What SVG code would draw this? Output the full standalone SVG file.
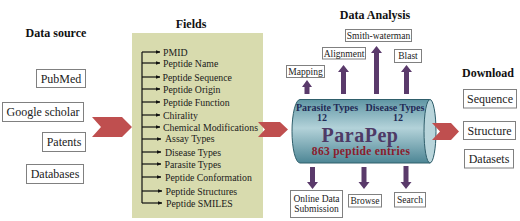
<svg xmlns="http://www.w3.org/2000/svg" width="520" height="221" viewBox="0 0 520 221">
<defs>
  <linearGradient id="cyl" x1="0" y1="0" x2="0" y2="1">
    <stop offset="0" stop-color="#5f96a4"/>
    <stop offset="0.45" stop-color="#b3d2d9"/>
    <stop offset="1" stop-color="#4d8695"/>
  </linearGradient>
  <marker id="ah" viewBox="0 0 10 10" refX="9" refY="5" markerWidth="4" markerHeight="4" orient="auto">
    <path d="M0,1 L10,5 L0,9 Z" fill="#111"/>
  </marker>
</defs>
<style>
  text { font-family: "Liberation Serif", "Times New Roman", "DejaVu Serif", serif; }
  .title { font-weight: bold; font-size: 12px; fill: #111; text-anchor: middle; }
  .box { fill: #fff; stroke: #808080; stroke-width: 1; }
  .bt { font-size: 12px; fill: #222; text-anchor: middle; }
  .st { font-size: 9.5px; fill: #222; text-anchor: middle; }
  .ft { font-size: 9.8px; fill: #1a1a1a; }
  .cy { font-weight: bold; font-size: 10px; fill: #1f2a55; text-anchor: middle; }
  .chev { fill: #bf4f4f; }
  .parr { fill: #5a3a6b; }
  .fline { stroke: #111; stroke-width: 1.2; fill: none; }
</style>
<rect width="520" height="221" fill="#fff"/>

<text class="title" x="56" y="37">Data source</text>
<text class="title" x="191" y="28">Fields</text>
<text class="title" x="375" y="19">Data Analysis</text>
<text class="title" x="488" y="77">Download</text>

<g id="pubmed"><rect class="box" x="36.5" y="69.5" width="49" height="18"/><text class="bt" x="61" y="82.5">PubMed</text></g>
<g id="google"><rect class="box" x="2.5" y="102.5" width="81" height="19"/><text class="bt" x="43" y="116">Google scholar</text></g>
<g id="patents"><rect class="box" x="42.5" y="132.5" width="43" height="19"/><text class="bt" x="64" y="146">Patents</text></g>
<g id="databases"><rect class="box" x="26.5" y="164.5" width="57" height="19"/><text class="bt" x="55" y="178">Databases</text></g>

<g id="fields">
  <rect x="132" y="33" width="131" height="185" fill="#d8dbae"/>
  <path class="fline" d="M142,52 V203"/>
  <g class="fline" marker-end="url(#ah)">
    <path d="M142,52 H160"/><path d="M142,63 H160"/><path d="M142,77 H160"/><path d="M142,89 H160"/>
    <path d="M142,102 H160"/><path d="M142,115 H160"/><path d="M142,127 H160"/><path d="M142,139 H161"/>
    <path d="M142,152 H161"/><path d="M142,164 H161"/><path d="M142,177 H161"/><path d="M142,191 H162"/>
    <path d="M142,203 H162"/>
  </g>
  <text class="ft" x="163" y="55.5">PMID</text>
  <text class="ft" x="163" y="66.5">Peptide Name</text>
  <text class="ft" x="162.5" y="80.5">Peptide Sequence</text>
  <text class="ft" x="163" y="92.5">Peptide Origin</text>
  <text class="ft" x="163" y="105.5">Peptide Function</text>
  <text class="ft" x="163" y="118.5">Chirality</text>
  <text class="ft" x="163" y="130.5">Chemical Modifications</text>
  <text class="ft" x="165" y="141.5">Assay Types</text>
  <text class="ft" x="165" y="155.5">Disease Types</text>
  <text class="ft" x="164.5" y="167.5">Parasite Types</text>
  <text class="ft" x="165" y="180.5">Peptide Conformation</text>
  <text class="ft" x="165.5" y="194.5">Peptide Structures</text>
  <text class="ft" x="166" y="206.5">Peptide SMILES</text>
</g>

<g id="connectors">
  <polygon class="chev" points="92,117 122,117 132,127 122,137 92,137 101,127"/>
  <polygon class="chev" points="258,122 280,122 288,129.5 280,137 258,137 265,129.5"/>
  <polygon class="parr" points="304.5,94 309.5,94 309.5,87 312,87 307,80 302,87 304.5,87"/>
  <polygon class="parr" points="341,94 346,94 346,72 349,72 343.5,65 338,72 341,72"/>
  <polygon class="parr" points="374,94 379,94 379,53 382,53 376.5,46 371,53 374,53"/>
  <polygon class="parr" points="404,94 409,94 409,72 412,72 406.5,65 401,72 404,72"/>
  <polygon class="parr" points="310,167 315,167 315,182 318,182 312.5,189 307,182 310,182"/>
  <polygon class="parr" points="361.5,167 366.5,167 366.5,182 369.5,182 364,189 358.5,182 361.5,182"/>
  <polygon class="parr" points="403.5,166 408.5,166 408.5,182 411.5,182 406,189 400.5,182 403.5,182"/>
</g>

<g id="parapep">
  <path d="M300,99.5 L430,99.5 A6,32 0 0 1 430,163 L300,163 A8,31.75 0 0 1 300,99.5 Z" fill="url(#cyl)" stroke="#2f5e6b" stroke-width="1"/>
  <ellipse cx="430" cy="131.25" rx="6" ry="31.75" fill="#b9d5db" stroke="#2f5e6b" stroke-width="1"/>
  <text class="cy" x="327" y="111">Parasite Types</text>
  <text class="cy" x="322" y="121">12</text>
  <text class="cy" x="395" y="111">Disease Types</text>
  <text class="cy" x="398" y="121">12</text>
  <text x="360" y="142" font-weight="bold" font-size="20px" fill="#4e3a66" text-anchor="middle" letter-spacing="0.5">ParaPep</text>
  <text x="361" y="155" font-weight="bold" font-size="11.5px" fill="#8a1c2c" text-anchor="middle" letter-spacing="0.3">863 peptide entries</text>
</g>

<polygon class="chev" points="432,123 451,123 459,131.5 451,140 432,140 440,131.5"/>

<g id="mapping"><rect class="box" x="286.5" y="65.5" width="38" height="12"/><text class="st" x="305.5" y="74.5">Mapping</text></g>
<g id="alignment"><rect class="box" x="322.5" y="47.5" width="43" height="11.5"/><text class="st" x="344" y="56.5">Alignment</text></g>
<g id="smith"><rect class="box" x="345.5" y="29.5" width="66" height="12"/><text class="st" x="378.5" y="38.5">Smith-waterman</text></g>
<g id="blast"><rect class="box" x="394.5" y="49.5" width="27" height="13"/><text class="st" x="408" y="59">Blast</text></g>

<g id="submission"><rect class="box" x="290.5" y="190.5" width="52" height="27"/><text class="st" x="316.5" y="201.5">Online Data</text><text class="st" x="316.5" y="212">Submission</text></g>
<g id="browse"><rect class="box" x="348.5" y="194.5" width="33" height="12.5"/><text class="st" x="365" y="203.5">Browse</text></g>
<g id="search"><rect class="box" x="394.5" y="192.5" width="31" height="14.5"/><text class="st" x="410" y="203">Search</text></g>

<g id="sequence"><rect class="box" x="463.5" y="89.5" width="53" height="18.5"/><text class="bt" x="490" y="103">Sequence</text></g>
<g id="structure"><rect class="box" x="463.5" y="121.5" width="52" height="18"/><text class="bt" x="489.5" y="134.5">Structure</text></g>
<g id="datasets"><rect class="box" x="464.5" y="149.5" width="49" height="18.5"/><text class="bt" x="489" y="163">Datasets</text></g>
</svg>
